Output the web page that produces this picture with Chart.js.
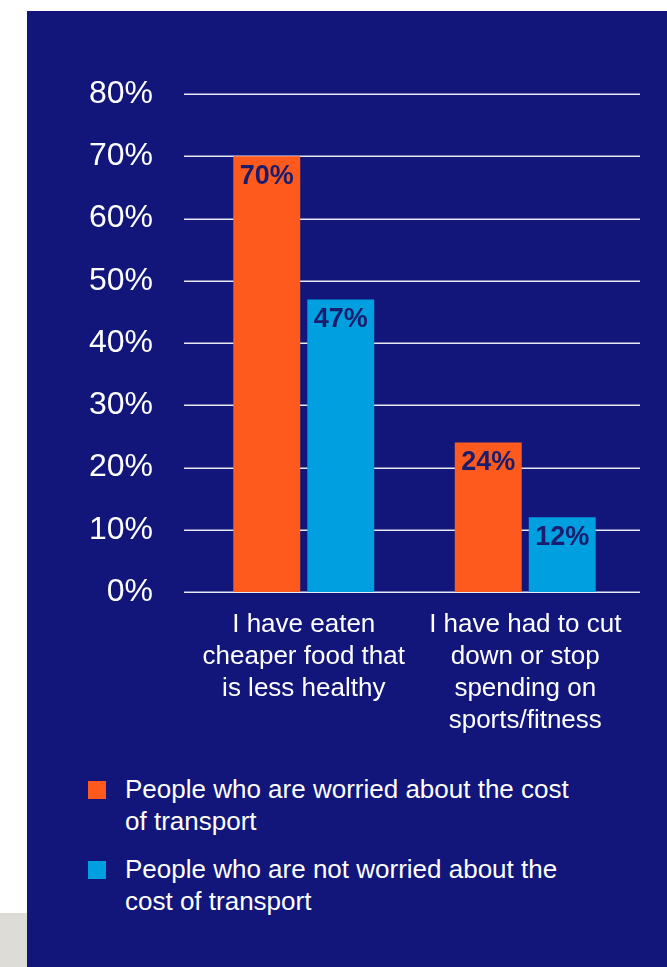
<!DOCTYPE html>
<html>
<head>
<meta charset="utf-8">
<script src="https://cdn.jsdelivr.net/npm/chart.js@4/dist/chart.umd.min.js"></script>
<style>
  body { margin: 0; background: #ffffff; width: 667px; height: 967px; overflow: hidden; position: relative; font-family: 'Liberation Sans', Arial, Helvetica, sans-serif; }
  .panel { position: absolute; left: 27px; top: 11px; width: 640px; height: 956px; background: #12167a; }
  .grey { position: absolute; left: 0; top: 913px; width: 27px; height: 54px; background: #dddcd7; }
  #chart { position: absolute; left: 0; top: 0; }
  .legend { position: absolute; left: 61px; top: 762px; width: 520px; }
  .legend-item { position: relative; padding-left: 37px; width: 460px; color: #ffffff; font-size: 26px; line-height: 32px; margin-bottom: 16px; }
  .legend-swatch { position: absolute; left: 0; top: 8px; width: 18px; height: 18px; }
</style>
</head>
<body>
<div class="grey"></div>
<div class="panel">
  <canvas id="chart" width="640" height="740"></canvas>
  <div class="legend" id="legend"></div>
</div>
<script>
// Chart data
const categories = [
  ['I have eaten', 'cheaper food that', 'is less healthy'],
  ['I have had to cut', 'down or stop', 'spending on', 'sports/fitness']
];
const seriesNames = [
  'People who are worried about the cost of transport',
  'People who are not worried about the cost of transport'
];
const worriedValues = [70, 24];
const notWorriedValues = [47, 12];
const yTicks = [0, 10, 20, 30, 40, 50, 60, 70, 80];

const NAVY = '#12167a';
const ORANGE = '#ff5a1e';
const BLUE = '#009fe0';

Chart.defaults.font.family = "'Liberation Sans', Arial, Helvetica, sans-serif";

// Horizontal gridlines, a little wider than the plot area like the original
const gridLines = {
  id: 'gridLines',
  beforeDatasetsDraw(chart) {
    const { ctx, chartArea, scales } = chart;
    ctx.save();
    ctx.strokeStyle = 'rgba(255,255,255,0.9)';
    ctx.lineWidth = 1.5;
    scales.y.ticks.forEach(t => {
      const y = Math.round(scales.y.getPixelForValue(t.value)) + 0.25;
      ctx.beginPath();
      ctx.moveTo(chartArea.left - 9, y);
      ctx.lineTo(chartArea.right + 4, y);
      ctx.stroke();
    });
    ctx.restore();
  }
};

// Value labels drawn inside the top of each bar
const barLabels = {
  id: 'barLabels',
  afterDatasetsDraw(chart) {
    const ctx = chart.ctx;
    ctx.save();
    ctx.font = 'bold 27px ' + Chart.defaults.font.family;
    ctx.fillStyle = '#1a1d6e';
    ctx.textAlign = 'center';
    ctx.textBaseline = 'middle';
    chart.data.datasets.forEach((ds, i) => {
      chart.getDatasetMeta(i).data.forEach((bar, j) => {
        ctx.fillText(ds.data[j] + '%', bar.x, bar.y + 20);
      });
    });
    ctx.restore();
  }
};

const chart = new Chart(document.getElementById('chart'), {
  type: 'bar',
  data: {
    labels: categories,
    datasets: [
      { label: seriesNames[0], data: worriedValues, backgroundColor: ORANGE },
      { label: seriesNames[1], data: notWorriedValues, backgroundColor: BLUE }
    ]
  },
  options: {
    responsive: false,
    animation: false,
    devicePixelRatio: 1,
    layout: { padding: { top: 83, right: 31, left: 0, bottom: 0 } },
    categoryPercentage: 0.668,
    barPercentage: 0.905,
    plugins: {
      legend: { display: false },
      tooltip: { enabled: false }
    },
    scales: {
      x: {
        grid: { display: false, drawTicks: false },
        border: { display: false },
        ticks: {
          color: '#ffffff',
          padding: 17,
          font: { size: 26, lineHeight: 1.23 },
          maxRotation: 0,
          autoSkip: false
        },
        afterFit(scale) { scale.height = 159; }
      },
      y: {
        min: 0,
        max: 80,
        afterBuildTicks(scale) { scale.ticks = yTicks.map(v => ({ value: v })); },
        grid: { display: false, drawTicks: false },
        border: { display: false },
        ticks: {
          color: '#ffffff',
          padding: 40,
          font: { size: 32 },
          callback: v => v + '%'
        },
        afterFit(scale) { scale.width = 166; }
      }
    }
  },
  plugins: [gridLines, barLabels]
});

// HTML legend so long labels can wrap
const legendEl = document.getElementById('legend');
chart.data.datasets.forEach(ds => {
  const item = document.createElement('div');
  item.className = 'legend-item';
  item.innerHTML = `<span class="legend-swatch" style="background:${ds.backgroundColor}"></span>${ds.label}`;
  legendEl.appendChild(item);
});
</script>
</body>
</html>
